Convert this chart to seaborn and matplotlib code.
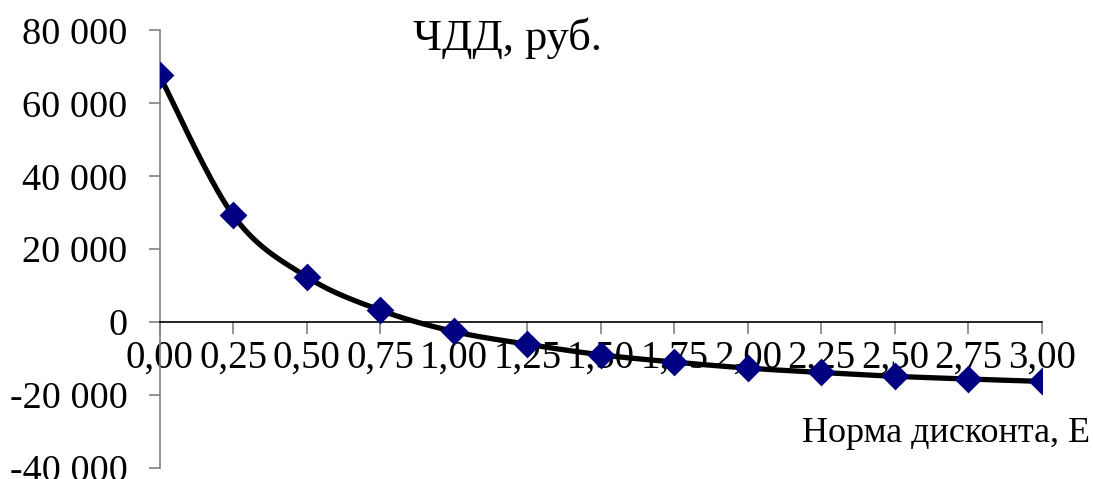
import numpy as np
import matplotlib
matplotlib.use("Agg")
import matplotlib.pyplot as plt
import matplotlib.ticker as mticker
import seaborn as sns

# ---- data ----
discount_rate = [0.00, 0.25, 0.50, 0.75, 1.00, 1.25, 1.50, 1.75, 2.00, 2.25, 2.50, 2.75, 3.00]
npv = [67700, 29350, 12450, 3300, -2550, -6050, -8950, -10950, -12600, -13800, -14850, -15600, -16250]
x_ticks = [0.00, 0.25, 0.50, 0.75, 1.00, 1.25, 1.50, 1.75, 2.00, 2.25, 2.50, 2.75, 3.00]
y_ticks = [-40000, -20000, 0, 20000, 40000, 60000, 80000]
title_text = "ЧДД, руб."
xlabel_text = "Норма дисконта, Е"


def smooth_curve(xs, ys, n=40, tension=0.5):
    """Cardinal (Catmull-Rom style) spline for drawing a smoothed line, like Excel."""
    xs = np.asarray(xs, float)
    ys = np.asarray(ys, float)
    px = np.concatenate([[xs[0]], xs, [xs[-1]]])
    py = np.concatenate([[ys[0]], ys, [ys[-1]]])
    outx, outy = [], []
    for i in range(1, len(px) - 2):
        p0x, p1x, p2x, p3x = px[i - 1], px[i], px[i + 1], px[i + 2]
        p0y, p1y, p2y, p3y = py[i - 1], py[i], py[i + 1], py[i + 2]
        m1x, m1y = tension * (p2x - p0x), tension * (p2y - p0y)
        m2x, m2y = tension * (p3x - p1x), tension * (p3y - p1y)
        t = np.linspace(0, 1, n, endpoint=(i == len(px) - 3))
        h00 = 2 * t**3 - 3 * t**2 + 1
        h10 = t**3 - 2 * t**2 + t
        h01 = -2 * t**3 + 3 * t**2
        h11 = t**3 - t**2
        outx.append(h00 * p1x + h10 * m1x + h01 * p2x + h11 * m2x)
        outy.append(h00 * p1y + h10 * m1y + h01 * p2y + h11 * m2y)
    return np.concatenate(outx), np.concatenate(outy)


sns.set_theme(style="white")
plt.rcParams["font.family"] = ["Liberation Serif", "DejaVu Serif"]
plt.rcParams["text.color"] = "black"
plt.rcParams["xtick.labelcolor"] = "black"
plt.rcParams["ytick.labelcolor"] = "black"

W, H = 1093, 479
fig = plt.figure(figsize=(W / 100, H / 100), dpi=100)
ax = fig.add_axes([159.5 / W, 1 - 468 / H, (1042 - 159.5) / W, (468 - 30.5) / H])

sx, sy = smooth_curve(discount_rate, npv)
sns.lineplot(x=sx, y=sy, ax=ax, color="black", linewidth=3.8, sort=False, zorder=3)
sns.scatterplot(x=discount_rate, y=npv, ax=ax, marker="D", s=200, color="#000080",
                edgecolor="#000080", linewidth=0, zorder=4)

ax.set_xlim(0, 3)
ax.set_ylim(-40000, 80000)
ax.set_xticks(x_ticks)
ax.set_yticks(y_ticks)
ax.xaxis.set_major_formatter(mticker.FuncFormatter(lambda v, p: f"{v:.2f}".replace(".", ",")))
ax.yaxis.set_major_formatter(mticker.FuncFormatter(lambda v, p: f"{int(v):,}".replace(",", " ")))

for s in ["top", "right"]:
    ax.spines[s].set_visible(False)
ax.spines["bottom"].set_position(("data", 0))
ax.spines["bottom"].set_color("black")
ax.spines["bottom"].set_linewidth(1.2)
ax.spines["left"].set_color("#808080")
ax.spines["left"].set_linewidth(1.2)
ax.set_axisbelow(True)

ax.tick_params(axis="y", direction="out", length=8, width=1.2, color="#808080",
               labelsize=27.5, pad=15, left=True, labelcolor="black")
ax.tick_params(axis="x", direction="out", length=8.5, width=1.2, color="#808080",
               labelsize=28, pad=4, bottom=True, labelcolor="black")
ax.grid(False)
ax.set_facecolor("white")

fig.text(507 / W, 1 - 38 / H, title_text, ha="center", va="center", fontsize=32)
fig.text(1090 / W, 1 - 434 / H, xlabel_text, ha="right", va="center", fontsize=26)

fig.savefig("out.png", dpi=100, facecolor="white")
